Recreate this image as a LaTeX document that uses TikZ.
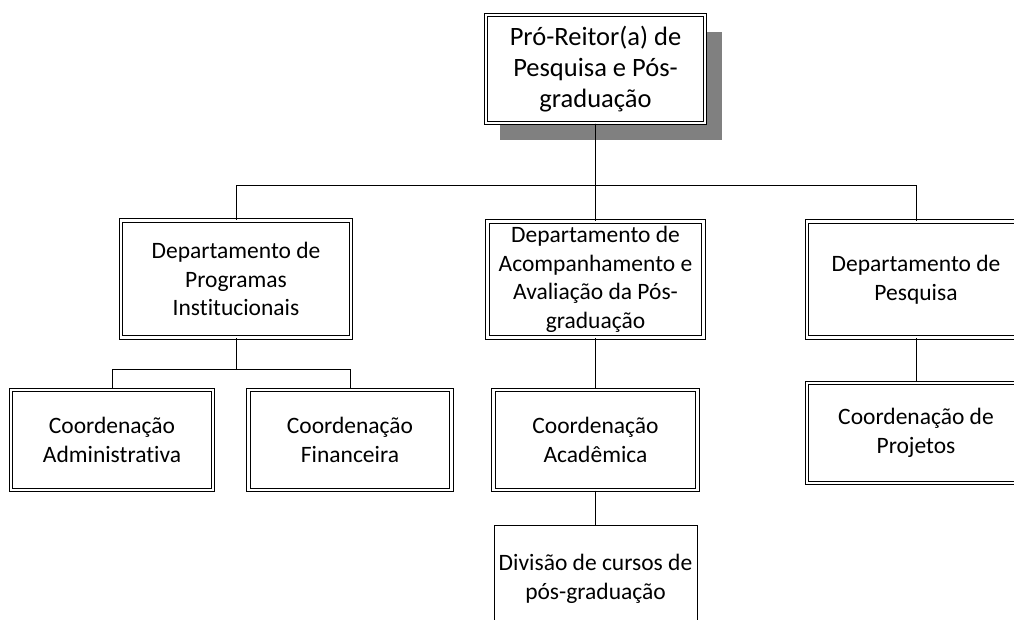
\documentclass[tikz,border=0pt]{standalone}
\usepackage{fontspec}
\setmainfont{Carlito}[Ligatures=NoCommon]
\begin{document}
\begin{tikzpicture}[x=1pt,y=-1pt,
  box/.style={draw=black, line width=1.1pt, double=white, double distance=2.4pt,
    align=center, inner sep=0pt, text=black,
    font=\fontsize{23.5}{28.5}\selectfont},
  topbox/.style={box, font=\fontsize{26.5}{31}\selectfont},
  plainbox/.style={draw=black, line width=0.9pt, align=center,
    inner sep=0pt, font=\fontsize{23.5}{28.5}\selectfont},
  conn/.style={draw=black, line width=1pt},
  shadowbox/.style={fill=black!50, draw=none}]
\useasboundingbox (0,0) rectangle (1014,620);

% shadow of the top box
\fill[shadowbox] (500,32) rectangle (722,140);

\node[topbox, fill=white, minimum width=219pt, minimum height=108pt] (T) at (595.5,69)
  {Pró-Reitor(a) de\\Pesquisa e Pós-\\graduação};

\node[box, minimum width=230pt, minimum height=117pt] (D1) at (236,279)
  {Departamento de\\Programas\\Institucionais};
\node[box, minimum width=216pt, minimum height=116pt] (D2) at (595.5,279.5)
  {Departamento de\\Acompanhamento e\\Avaliação da Pós-\\graduação};
\node[box, minimum width=218pt, minimum height=116pt] (D3) at (916,279.5)
  {Departamento de\\Pesquisa};

\node[box, minimum width=202pt, minimum height=100pt] (C1) at (112,440)
  {Coordenação\\Administrativa};
\node[box, minimum width=203pt, minimum height=100pt] (C2) at (350,440)
  {Coordenação\\Financeira};
\node[box, minimum width=204pt, minimum height=100pt] (C3) at (595.5,440)
  {Coordenação\\Acadêmica};
\node[box, minimum width=218pt, minimum height=100pt] (C4) at (916,433)
  {Coordenação de\\Projetos};

\node[plainbox, minimum width=203pt, minimum height=108pt] (V) at (595.5,579)
  {Divisão de cursos de\\pós-graduação};

% connectors
\draw[conn] (T.south) -- ++(0,62) -| (D1.north);
\draw[conn] (T.south) -- ++(0,62) -| (D3.north);
\draw[conn] (T.south) -- (D2.north);
\draw[conn] (D1.south) -- ++(0,31) -| (C1.north);
\draw[conn] (D1.south) -- ++(0,31) -| (C2.north);
\draw[conn] (D2.south) -- (C3.north);
\draw[conn] (C3.south) -- (V.north);
\draw[conn] (D3.south) -- (C4.north);
\end{tikzpicture}
\end{document}
